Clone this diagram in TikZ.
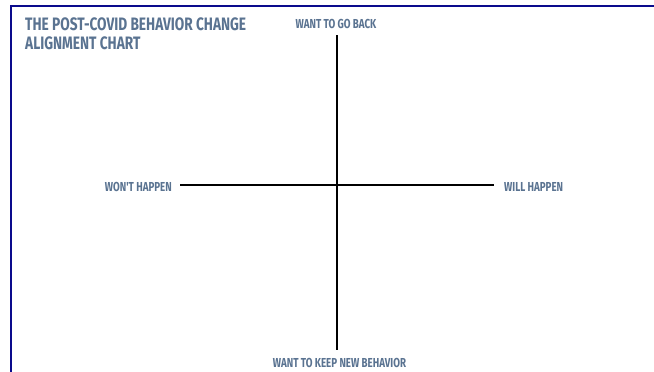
\documentclass[tikz,border=0pt]{standalone}
\usepackage{fontspec}
\newfontfamily\condfont{Fira Sans}[FakeStretch=0.75]
\newfontfamily\titlefont{Fira Sans}[FakeStretch=0.76]
\definecolor{labelblue}{HTML}{5A7391}
\definecolor{framenavy}{HTML}{0A0A8C}
\begin{document}
\begin{tikzpicture}[x=1pt,y=-1pt,
  axis/.style={line width=2pt,black},
  frameline/.style={line width=2.5pt,framenavy},
  lbl/.style={font=\condfont\bfseries\fontsize{13}{15}\selectfont,text=labelblue,inner sep=0pt},
  ttl/.style={font=\titlefont\bfseries\fontsize{18}{18.5}\selectfont,text=labelblue,inner sep=0pt,align=left,anchor=north west}]
\useasboundingbox (0,0) rectangle (654,372);
\fill[white] (0,0) rectangle (654,372);
\coordinate (fbl) at (11,372);
\coordinate (ftl) at (11,6);
\coordinate (ftr) at (654,6);
\draw[frameline] (fbl) -- (ftl) -- (ftr);
\node[ttl] (title) at (25,18) {THE POST-COVID BEHAVIOR CHANGE\\ALIGNMENT CHART};
\node[lbl] (top) at (336,23.5) {WANT TO GO BACK};
\node[lbl] (bottom) at (339.5,363) {WANT TO KEEP NEW BEHAVIOR};
\node[lbl,anchor=east] (left) at (172,186.5) {WON'T HAPPEN};
\node[lbl,anchor=west] (right) at (504,186.5) {WILL HAPPEN};
\coordinate (vt) at (337,35);
\coordinate (vb) at (337,350);
\coordinate (hl) at (180,185);
\coordinate (hr) at (494,185);
\draw[axis] (vt) -- (vb);
\draw[axis] (hl) -- (hr);
\end{tikzpicture}
\end{document}
